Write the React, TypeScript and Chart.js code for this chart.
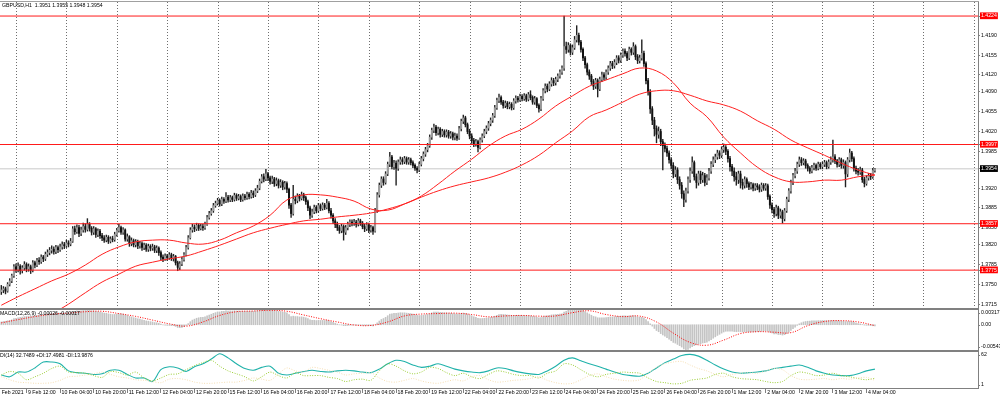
import React, { useEffect, useRef } from 'react';
import { Chart, registerables } from 'chart.js';

Chart.register(...registerables);

const FONT = '"Liberation Sans", Arial, sans-serif';
const W = 1000;
const AXIS_W = 22;
const BAR_PX = 2.1;
const X_MIN = -0.62;
const X_MAX = X_MIN + (W - AXIS_W) / BAR_PX;

const SYMBOL = 'GBPUSD,H1';
const PIP = 10000; // prices stored in 1/10000 units

// H1 bars, bar 0 = 9 Feb 2021 00:00 ... bar 416 = 4 Mar 2021 08:00
const opens = [13737,13740,13742,13738,13750,13756,13765,13781,13776,13782,13774,13779,13785,13777,13781,13775,13788,13784,13792,13790,13798,13795,13803,13806,
13810,13812,13808,13815,13811,13816,13820,13818,13823,13821,13826,13848,13843,13850,13840,13846,13852,13847,13856,13849,13842,13848,13838,13844,
13836,13832,13828,13833,13826,13830,13829,13838,13845,13850,13842,13846,13830,13834,13822,13827,13820,13825,13818,13822,13815,13819,13812,13817,
13814,13816,13810,13814,13806,13798,13795,13800,13797,13802,13796,13799,13788,13780,13786,13794,13802,13815,13832,13846,13851,13848,13854,13849,
13852,13850,13856,13868,13875,13880,13889,13893,13898,13892,13900,13897,13904,13899,13903,13900,13907,13902,13905,13900,13906,13903,13909,13905,
13911,13908,13915,13920,13932,13940,13936,13945,13938,13932,13936,13928,13933,13925,13930,13922,13928,13918,13890,13875,13900,13898,13906,13902,
13908,13903,13896,13885,13872,13878,13886,13880,13889,13884,13890,13886,13893,13880,13872,13862,13856,13850,13845,13852,13842,13850,13856,13860,
13858,13860,13856,13862,13858,13852,13848,13855,13846,13850,13844,13880,13908,13925,13936,13930,13945,13962,13975,13958,13964,13955,13966,13970,
13967,13972,13966,13970,13965,13960,13955,13952,13962,13972,13980,13988,13995,14010,14022,14028,14018,14024,14015,14020,14014,14019,14012,14016,
14010,14012,14008,14025,14038,14044,14032,14020,14012,14004,13998,14002,13992,14005,14012,14020,14026,14034,14040,14048,14062,14075,14080,14072,
14066,14070,14064,14068,14062,14074,14079,14076,14082,14078,14083,14077,14085,14080,14072,14078,14066,14060,14078,14092,14100,14095,14104,14110,
14106,14112,14118,14125,14132,14170,14165,14172,14160,14168,14182,14190,14178,14165,14150,14138,14125,14118,14108,14100,14110,14095,14112,14120,
14116,14125,14132,14140,14136,14142,14150,14146,14155,14162,14158,14150,14165,14160,14170,14152,14145,14150,14158,14140,14110,14090,14060,14040,
14025,14015,14020,14002,13995,13990,13982,13970,13960,13945,13952,13935,13925,13910,13900,13915,13935,13950,13965,13940,13930,13945,13935,13942,
13930,13938,13950,13962,13970,13975,13982,13978,13988,13992,13985,13972,13958,13950,13940,13935,13945,13930,13925,13935,13928,13922,13926,13920,
13924,13922,13918,13925,13920,13924,13905,13890,13882,13875,13885,13872,13878,13866,13880,13900,13915,13930,13942,13950,13962,13970,13965,13968,
13960,13955,13950,13956,13960,13955,13962,13958,13962,13965,13958,13966,13970,13975,13968,13962,13970,13960,13965,13945,13970,13982,13972,13955,
13950,13948,13952,13935,13928,13938,13942,13940,13951];
const highs = [13748,13746,13745,13753,13760,13768,13785,13786,13788,13785,13783,13790,13788,13786,13784,13792,13791,13796,13797,13802,13801,13807,13811,13815,
13818,13816,13819,13818,13821,13825,13824,13828,13827,13831,13852,13853,13855,13854,13851,13858,13857,13866,13859,13852,13852,13850,13848,13847,
13840,13836,13837,13836,13834,13835,13842,13849,13856,13853,13850,13848,13839,13836,13832,13830,13829,13828,13826,13825,13823,13822,13821,13820,
13821,13819,13818,13816,13809,13802,13804,13803,13806,13805,13803,13801,13791,13790,13798,13806,13819,13836,13850,13856,13855,13858,13857,13856,
13856,13860,13872,13879,13884,13893,13897,13902,13901,13904,13903,13912,13907,13907,13906,13911,13910,13909,13908,13910,13909,13913,13912,13916,
13915,13919,13925,13936,13944,13945,13953,13948,13941,13941,13939,13938,13936,13935,13933,13932,13931,13920,13893,13925,13906,13910,13909,13913,
13911,13906,13899,13888,13883,13890,13889,13893,13892,13894,13893,13900,13896,13884,13875,13866,13860,13854,13856,13855,13854,13860,13864,13864,
13865,13863,13866,13865,13861,13856,13859,13858,13854,13853,13884,13912,13929,13940,13940,13949,13966,13983,13978,13969,13968,13970,13975,13974,
13976,13975,13974,13973,13968,13963,13958,13966,13976,13984,13992,13999,14014,14026,14033,14031,14028,14027,14024,14023,14023,14022,14020,14019,
14017,14016,14029,14042,14049,14047,14035,14024,14016,14008,14006,14005,14009,14016,14024,14030,14038,14044,14052,14066,14079,14086,14083,14075,
14074,14073,14072,14071,14078,14083,14082,14086,14085,14087,14086,14089,14092,14083,14082,14080,14069,14082,14096,14104,14104,14108,14115,14114,
14116,14122,14129,14136,14224,14178,14177,14175,14173,14188,14207,14194,14181,14168,14153,14141,14129,14121,14112,14114,14113,14116,14125,14124,
14129,14136,14144,14144,14147,14154,14154,14159,14166,14166,14161,14169,14168,14177,14173,14156,14155,14182,14162,14143,14114,14094,14064,14045,
14030,14028,14024,14006,14000,13994,13986,13974,13965,13958,13956,13940,13930,13915,13920,13940,13956,13975,13968,13945,13950,13950,13948,13946,
13944,13955,13967,13975,13980,13987,13986,13993,13998,13995,13988,13976,13962,13956,13948,13950,13950,13936,13940,13938,13931,13930,13929,13928,
13928,13926,13929,13928,13928,13927,13908,13894,13886,13890,13888,13883,13881,13884,13904,13919,13934,13946,13955,13966,13975,13974,13972,13971,
13963,13958,13960,13964,13963,13966,13965,13966,13969,13968,13970,13975,14005,13979,13971,13974,13973,13970,13968,13974,13989,13985,13975,13959,
13955,13957,13955,13939,13942,13946,13946,13955,13955];
const lows = [13732,13735,13733,13736,13747,13753,13762,13771,13772,13768,13770,13775,13772,13773,13769,13772,13779,13781,13785,13787,13790,13792,13799,13802,
13805,13803,13804,13806,13808,13812,13813,13815,13816,13818,13824,13838,13840,13834,13836,13842,13842,13844,13844,13837,13838,13833,13834,13831,
13827,13824,13825,13822,13823,13825,13826,13835,13842,13838,13838,13826,13826,13817,13818,13816,13816,13813,13814,13810,13811,13808,13808,13809,
13810,13806,13806,13801,13793,13790,13792,13792,13794,13792,13791,13784,13774,13776,13783,13791,13800,13812,13830,13842,13843,13845,13845,13846,
13845,13847,13854,13865,13872,13877,13886,13890,13888,13889,13893,13894,13895,13896,13896,13897,13898,13899,13896,13897,13899,13900,13901,13902,
13903,13905,13912,13917,13929,13931,13933,13933,13927,13928,13923,13924,13920,13921,13917,13918,13912,13884,13868,13872,13892,13894,13897,13899,
13898,13891,13880,13866,13868,13875,13876,13877,13880,13881,13882,13883,13876,13867,13857,13850,13845,13840,13841,13828,13838,13846,13852,13853,
13854,13851,13853,13854,13848,13843,13845,13841,13842,13838,13842,13877,13904,13921,13925,13927,13942,13958,13954,13953,13925,13951,13962,13962,
13963,13962,13962,13961,13956,13951,13947,13949,13959,13968,13976,13984,13992,14006,14018,14013,14014,14010,14011,14010,14010,14008,14008,14005,
14005,14004,14006,14021,14034,14028,14016,14007,13999,13993,13994,13984,13989,14001,14009,14016,14022,14030,14036,14045,14059,14071,14068,14061,
14062,14060,14060,14058,14059,14070,14072,14073,14074,14075,14073,14074,14076,14068,14068,14062,14054,14057,14075,14088,14090,14092,14100,14101,
14102,14108,14114,14121,14128,14158,14160,14155,14156,14165,14178,14173,14160,14145,14132,14120,14112,14103,14094,14096,14081,14092,14108,14111,
14112,14121,14128,14131,14132,14138,14141,14142,14151,14153,14145,14147,14155,14156,14147,14140,14141,14146,14135,14104,14084,14052,14032,14012,
14000,14008,13995,13952,13984,13976,13964,13954,13938,13940,13928,13918,13902,13887,13895,13911,13930,13946,13934,13920,13925,13928,13930,13924,
13926,13934,13946,13958,13965,13971,13972,13974,13983,13979,13966,13950,13942,13932,13925,13928,13920,13918,13920,13921,13917,13918,13915,13916,
13917,13913,13914,13916,13916,13900,13884,13876,13868,13871,13866,13867,13858,13862,13877,13896,13911,13926,13938,13946,13958,13960,13961,13955,
13950,13946,13947,13952,13951,13952,13954,13954,13958,13954,13955,13962,13966,13963,13957,13958,13955,13955,13922,13940,13966,13967,13950,13945,
13943,13944,13930,13922,13925,13934,13935,13937,13948];
const closes = [13740,13742,13738,13750,13756,13765,13781,13776,13782,13774,13779,13785,13777,13781,13775,13788,13784,13792,13790,13798,13795,13803,13806,13810,
13812,13808,13815,13811,13816,13820,13818,13823,13821,13826,13848,13843,13850,13840,13846,13852,13847,13856,13849,13842,13848,13838,13844,13836,
13832,13828,13833,13826,13830,13829,13838,13845,13850,13842,13846,13830,13834,13822,13827,13820,13825,13818,13822,13815,13819,13812,13817,13814,
13816,13810,13814,13806,13798,13795,13800,13797,13802,13796,13799,13788,13780,13786,13794,13802,13815,13832,13846,13851,13848,13854,13849,13852,
13850,13856,13868,13875,13880,13889,13893,13898,13892,13900,13897,13904,13899,13903,13900,13907,13902,13905,13900,13906,13903,13909,13905,13911,
13908,13915,13920,13932,13940,13936,13945,13938,13932,13936,13928,13933,13925,13930,13922,13928,13918,13890,13875,13900,13898,13906,13902,13908,
13903,13896,13885,13872,13878,13886,13880,13889,13884,13890,13886,13893,13880,13872,13862,13856,13850,13845,13852,13842,13850,13856,13860,13858,
13860,13856,13862,13858,13852,13848,13855,13846,13850,13844,13880,13908,13925,13936,13930,13945,13962,13975,13958,13964,13955,13966,13970,13967,
13972,13966,13970,13965,13960,13955,13952,13962,13972,13980,13988,13995,14010,14022,14028,14018,14024,14015,14020,14014,14019,14012,14016,14010,
14012,14008,14025,14038,14044,14032,14020,14012,14004,13998,14002,13992,14005,14012,14020,14026,14034,14040,14048,14062,14075,14080,14072,14066,
14070,14064,14068,14062,14074,14079,14076,14082,14078,14083,14077,14085,14080,14072,14078,14066,14060,14078,14092,14100,14095,14104,14110,14106,
14112,14118,14125,14132,14170,14165,14172,14160,14168,14182,14190,14178,14165,14150,14138,14125,14118,14108,14100,14110,14095,14112,14120,14116,
14125,14132,14140,14136,14142,14150,14146,14155,14162,14158,14150,14165,14160,14170,14152,14145,14150,14158,14140,14110,14090,14060,14040,14025,
14015,14020,14002,13995,13990,13982,13970,13960,13945,13952,13935,13925,13910,13900,13915,13935,13950,13965,13940,13930,13945,13935,13942,13930,
13938,13950,13962,13970,13975,13982,13978,13988,13992,13985,13972,13958,13950,13940,13935,13945,13930,13925,13935,13928,13922,13926,13920,13924,
13922,13918,13925,13920,13924,13905,13890,13882,13875,13885,13872,13878,13866,13880,13900,13915,13930,13942,13950,13962,13970,13965,13968,13960,
13955,13950,13956,13960,13955,13962,13958,13962,13965,13958,13966,13970,13975,13968,13962,13970,13960,13965,13945,13970,13982,13972,13955,13950,
13948,13952,13935,13928,13938,13942,13940,13951,13954];

// moving averages, one value every 8 bars
const MA_STEP = 8;
const maFast = [13713,13728,13742,13756,13768,13784,13803,13816,13825,13828,13828,13823,13821,13828,13841,13853,13872,13899,13908,13908,13904,13897,13883,13881,13892,13906,13927,13950,13971,13994,14012,14024,14042,14065,14083,14100,14111,14122,14132,14127,14106,14070,14046,14010,13982,13957,13940,13931,13931,13934,13934,13940,13943];
const maSlow = [13643,13660,13678,13697,13715,13735,13754,13768,13782,13789,13795,13800,13809,13819,13830,13841,13849,13856,13862,13865,13869,13872,13876,13883,13892,13904,13915,13924,13931,13938,13948,13961,13978,14000,14021,14046,14058,14072,14086,14092,14092,14084,14074,14067,14056,14039,14024,14005,13991,13978,13964,13952,13943];

const levels = [14224, 13997, 13857, 13775];
const priceTicks = [14190, 14155, 14120, 14090, 14055, 14020, 13985, 13920, 13885, 13850, 13820, 13785, 13750, 13715];
const Y_MIN = 13708.1;
const Y_MAX = 14248.8;

// MACD(12,26,9) main per bar, in 1e-5 units
const MACD_UNIT = 100000;
const macdMain = [60,70,75,85,95,105,130,140,150,158,165,175,
178,185,185,195,198,205,208,215,218,226,232,240,
245,246,250,250,252,255,254,256,255,258,280,288,
298,295,300,306,305,312,308,300,298,288,284,272,
262,250,245,234,228,220,222,228,236,232,230,210,
200,180,170,152,145,128,120,104,96,82,76,66,
60,48,44,30,12,-2,-8,-14,-14,-20,-20,-36,
-58,-62,-56,-40,-14,24,66,100,120,140,150,158,
160,170,190,208,226,246,260,276,276,288,290,298,
296,298,296,300,296,296,290,290,286,288,286,290,
290,295,300,312,326,330,338,334,326,320,310,304,
292,286,274,268,254,216,176,184,176,176,168,170,
162,150,130,106,96,96,90,94,92,94,92,96,
84,68,50,32,14,-2,-6,-20,-20,-16,-10,-8,
-6,-8,-6,-8,-12,-16,-14,-20,-20,-24,0,40,
80,114,134,160,194,228,236,246,244,252,258,256,
256,250,246,238,228,216,202,198,200,206,214,222,
238,256,270,270,272,266,264,258,256,250,248,240,
236,230,234,244,252,246,232,214,194,172,158,138,
134,134,138,142,148,156,166,184,204,220,222,220,
218,210,206,198,200,202,200,202,198,198,192,194,
190,180,176,162,146,154,170,186,192,202,212,216,
220,224,230,236,270,290,310,316,320,330,342,336,
324,304,282,256,230,204,178,170,150,148,148,150,
154,160,168,168,172,180,180,186,192,192,186,192,
190,196,184,168,160,158,142,110,70,20,-30,-80,
-124,-150,-190,-220,-248,-278,-310,-344,-380,-396,-424,-450,
-480,-520,-543,-530,-500,-470,-450,-432,-418,-408,-392,-386,
-372,-350,-320,-290,-260,-230,-206,-180,-156,-140,-136,-136,
-140,-146,-150,-146,-152,-156,-152,-152,-154,-152,-154,-150,
-148,-146,-140,-136,-130,-140,-160,-178,-196,-196,-210,-212,
-222,-214,-190,-160,-124,-86,-50,-14,20,42,60,70,
76,78,82,86,86,88,88,90,90,88,90,90,
92,90,86,86,80,78,66,68,72,66,52,38,
26,18,4,-8,-12,-14,-18,-22,-26];
// signal, one value every 8 bars
const SIG_STEP = 8;
const macdSignal = [40,110,175,225,250,280,290,240,180,100,20,-30,60,200,280,295,310,290,210,130,60,-5,-15,60,190,230,240,250,220,170,190,200,185,190,260,300,220,175,185,60,-180,-380,-440,-330,-190,-150,-160,-170,-20,70,88,60,-17];
const MACD_MIN = -0.00543;
const MACD_MAX = 0.00317;

// ADX(14), one value every 4 bars
const ADX_STEP = 4;
const adxMain = [23,20,28,28,35,45,45,42,30,27,26,24,25,31,31,24,18,18,12,32,37,35,29,37,42,50,59,52,42,34,31,36,38,26,23,26,29,31,29,28,30,31,30,28,27,33,42,48,46,40,36,38,42,38,33,30,28,27,30,35,34,30,27,25,24,30,38,48,52,47,42,38,33,28,24,22,21,26,35,44,50,56,58,55,48,40,33,28,26,27,28,30,34,36,38,40,36,30,26,23,22,22,25,30,33];
const plusDI = [23,29,26,15,20,26,34,38,28,27,26,22,19,29,27,23,28,18,13,18,24,25,32,39,44,48,38,30,25,20,13,20,28,22,18,27,22,22,22,19,17,12,15,16,14,30,42,38,30,25,28,36,34,27,22,26,20,17,24,30,28,24,22,22,18,26,30,42,40,32,24,20,24,26,28,27,26,18,12,10,8,9,14,16,18,24,26,20,17,16,15,12,10,12,22,28,26,22,23,26,22,20,17,15,17.5];
const minusDI = [20,15,11,10,9,9,10,14,20,21,23,25,28,24,20,18,15,14,12,10,16,17,15,11,9,9,10,11,11,14,18,16,14,25,35,30,28,36,34,31,28,23,25,26,27,18,12,11,14,17,13,10,9,12,15,13,20,22,15,11,12,14,15,17,20,14,10,8,9,15,22,25,20,16,14,13,15,26,36,42,45,46,40,34,30,24,20,24,26,27,26,30,34,32,22,16,15,16,17,15,17,16,18,19,14];
const ADX_MIN = 1;
const ADX_MAX = 62;
const adxHeader = 'DI(14) 32.7489 +DI:17.4981 -DI:13.9876';

const timeLabelBars = [-2.6, 12, 28, 44, 60, 76, 92, 108, 124, 140, 156, 172, 188, 204, 220, 236, 252, 268, 284, 300, 316, 332, 348, 364, 380, 396, 412];
const timeLabels = ['8 Feb 2021', '9 Feb 12:00', '10 Feb 04:00', '10 Feb 20:00', '11 Feb 12:00', '12 Feb 04:00', '12 Feb 20:00', '15 Feb 12:00', '16 Feb 04:00', '16 Feb 20:00', '17 Feb 12:00', '18 Feb 04:00', '18 Feb 20:00', '19 Feb 12:00', '22 Feb 04:00', '22 Feb 20:00', '23 Feb 12:00', '24 Feb 04:00', '24 Feb 20:00', '25 Feb 12:00', '26 Feb 04:00', '26 Feb 20:00', '1 Mar 12:00', '2 Mar 04:00', '2 Mar 20:00', '3 Mar 12:00', '4 Mar 04:00'];

const FS = 5.2;
const GRID_COLOR = '#808080';

const baseOptions: any = {
  responsive: false,
  maintainAspectRatio: false,
  devicePixelRatio: 1,
  animation: false,
  events: [],
  layout: { padding: 0 },
  plugins: { legend: { display: false }, tooltip: { enabled: false }, title: { display: false } },
};

function xHidden(extra: any = {}) {
  return {
    type: 'linear', min: X_MIN, max: X_MAX, offset: false,
    display: false,
    grid: { offset: false },
    ...extra,
  };
}

function rightAxis(min: number, max: number, extra: any = {}) {
  return {
    type: 'linear', position: 'right', min, max, beginAtZero: false,
    grid: { display: false },
    border: { display: true, color: GRID_COLOR, width: 1 },
    ticks: { display: false },
    afterFit: (s: any) => { s.width = AXIS_W; s.paddingTop = 0; s.paddingBottom = 0; },
    ...extra,
  };
}

function drawText(ctx: CanvasRenderingContext2D, text: string, x: number, y: number, color = '#000') {
  ctx.save();
  ctx.font = `${FS}px ${FONT}`;
  ctx.fillStyle = color;
  ctx.textBaseline = 'middle';
  ctx.textAlign = 'left';
  ctx.fillText(text, x, y);
  ctx.restore();
}

function drawRightLabels(chart: any, entries: { value: number; text: string }[]) {
  const { ctx, chartArea } = chart;
  const ys = chart.scales.y;
  entries.forEach((e) => {
    let py = ys.getPixelForValue(e.value);
    py = Math.min(Math.max(py, chartArea.top + 2.5), chartArea.bottom - 3);
    ctx.save();
    ctx.strokeStyle = GRID_COLOR;
    ctx.lineWidth = 1;
    ctx.beginPath();
    ctx.moveTo(chartArea.right, Math.round(py) + 0.5);
    ctx.lineTo(chartArea.right + 2, Math.round(py) + 0.5);
    ctx.stroke();
    ctx.restore();
    drawText(ctx, e.text, chartArea.right + 3, py);
  });
}

const fmtPrice = (v: number) => (v / PIP).toFixed(4);

export default function App() {
  const mainRef = useRef<HTMLCanvasElement>(null);
  const macdRef = useRef<HTMLCanvasElement>(null);
  const adxRef = useRef<HTMLCanvasElement>(null);

  useEffect(() => {
    const n = closes.length;
    const last = n - 1;
    const idx = closes.map((_, i) => i);
    const isBull = (i: number) => closes[i] >= opens[i];

    // ---------- main price panel ----------
    const levelSets = levels.map((v) => ({
      type: 'line',
      data: [{ x: X_MIN, y: v / PIP }, { x: X_MAX, y: v / PIP }],
      borderColor: '#ff1a1a', borderWidth: 1, pointRadius: 0, order: 2,
    }));
    const header = `${SYMBOL}  ${fmtPrice(opens[last])} ${fmtPrice(highs[last])} ${fmtPrice(lows[last])} ${fmtPrice(closes[last])}`;
    const allYTicks = [...priceTicks, ...levels, closes[last]];
    const nPlain = priceTicks.length;
    const nLevel = levels.length;

    const main = new Chart(mainRef.current as HTMLCanvasElement, {
      type: 'bar',
      data: {
        datasets: [
          {
            type: 'line',
            data: [{ x: X_MIN, y: closes[last] / PIP }, { x: X_MAX, y: closes[last] / PIP }],
            borderColor: '#c8c8c8', borderWidth: 1, pointRadius: 0, order: 5,
          },
          {
            type: 'bar',
            data: idx.map((i) => ({ x: i, y: [lows[i] / PIP, highs[i] / PIP] })),
            backgroundColor: '#222222', barThickness: 0.75, grouped: false, order: 4,
          },
          {
            type: 'bar',
            data: idx.map((i) => ({ x: i, y: [opens[i] / PIP, closes[i] / PIP] })),
            backgroundColor: (c: any) => (isBull(c.dataIndex) ? '#9c9c9c' : '#111111'),
            barThickness: 1.3, minBarLength: 0.8, grouped: false, order: 3,
          },
          {
            type: 'line',
            data: maFast.map((v, k) => ({ x: k * MA_STEP, y: v / PIP })),
            borderColor: '#ff2020', borderWidth: 1, pointRadius: 0, tension: 0.4, order: 1,
          },
          {
            type: 'line',
            data: maSlow.map((v, k) => ({ x: k * MA_STEP, y: v / PIP })),
            borderColor: '#ff2020', borderWidth: 1, pointRadius: 0, tension: 0.4, order: 1,
          },
          ...levelSets,
        ] as any,
      },
      options: {
        ...baseOptions,
        scales: {
          x: {
            type: 'linear', min: X_MIN, max: X_MAX, offset: false, position: 'bottom',
            grid: { display: true, drawOnChartArea: true, drawTicks: false, color: '#6e6e6e', lineWidth: 1, offset: false },
            border: { display: false, dash: [1, 2] },
            ticks: { display: false },
            afterBuildTicks: (s: any) => {
              s.ticks = Array.from({ length: 20 }, (_, k) => ({ value: 7.25 + 24 * k }));
            },
            afterFit: (s: any) => { s.height = 0; s.paddingLeft = 0; s.paddingRight = 0; },
          },
          y: {
            type: 'linear', position: 'right', min: Y_MIN / PIP, max: Y_MAX / PIP, beginAtZero: false,
            grid: { display: true, drawOnChartArea: false, drawTicks: true, tickLength: 2, color: GRID_COLOR },
            border: { display: true, color: GRID_COLOR, width: 1 },
            afterBuildTicks: (s: any) => { s.ticks = allYTicks.map((v) => ({ value: v / PIP })); },
            afterFit: (s: any) => { s.width = AXIS_W; s.paddingTop = 0; s.paddingBottom = 0; },
            ticks: {
              autoSkip: false,
              padding: 1,
              font: { family: FONT, size: FS },
              callback: (v: any) => Number(v).toFixed(4),
              color: (c: any) => (c.index >= nPlain ? '#ffffff' : '#000000'),
              showLabelBackdrop: (c: any) => c.index >= nPlain,
              backdropColor: (c: any) => (c.index >= nPlain + nLevel ? '#000000' : '#ff0000'),
              backdropPadding: { left: 1, right: 1, top: 0.5, bottom: 0 },
            },
          },
        },
      },
      plugins: [
        { id: 'mainHeader', afterDraw: (ch: any) => drawText(ch.ctx, header, 2, 3.8) },
      ],
    } as any);

    // ---------- MACD panel ----------
    const macdHeader = `MACD(12,26,9) ${(macdMain[last] / MACD_UNIT).toFixed(5)} ${(macdSignal[macdSignal.length - 1] / MACD_UNIT).toFixed(5)}`;
    const macd = new Chart(macdRef.current as HTMLCanvasElement, {
      type: 'bar',
      data: {
        datasets: [
          {
            type: 'bar',
            data: idx.map((i) => ({ x: i, y: macdMain[i] / MACD_UNIT })),
            backgroundColor: '#c4c4c4', barThickness: 1, grouped: false, order: 2,
          },
          {
            type: 'line',
            data: macdSignal.map((v, k) => ({ x: k * SIG_STEP, y: v / MACD_UNIT })),
            borderColor: '#ff0000', borderWidth: 1, borderDash: [1, 1.5], pointRadius: 0, tension: 0.4, order: 1,
          },
        ] as any,
      },
      options: {
        ...baseOptions,
        scales: {
          x: xHidden(),
          y: rightAxis(MACD_MIN, MACD_MAX),
        },
      },
      plugins: [
        {
          id: 'macdText',
          afterDraw: (ch: any) => {
            drawText(ch.ctx, macdHeader, 0, 3.5);
            drawRightLabels(ch, [
              { value: MACD_MAX, text: MACD_MAX.toFixed(5) },
              { value: 0, text: '0.00' },
              { value: MACD_MIN, text: MACD_MIN.toFixed(5) },
            ]);
          },
        },
      ],
    } as any);

    // ---------- ADX panel ----------
    const adxLine = (arr: number[]) => arr.map((v, k) => ({ x: k * ADX_STEP, y: v }));
    const adx = new Chart(adxRef.current as HTMLCanvasElement, {
      type: 'line',
      data: {
        datasets: [
          { data: adxLine(minusDI), borderColor: '#f5deb3', borderWidth: 1, borderDash: [1, 1.5], pointRadius: 0, tension: 0.3 },
          { data: adxLine(plusDI), borderColor: '#9acd32', borderWidth: 1, borderDash: [1, 1.5], pointRadius: 0, tension: 0.3 },
          { data: adxLine(adxMain), borderColor: '#20b2aa', borderWidth: 1.1, pointRadius: 0, tension: 0.3 },
        ] as any,
      },
      options: {
        ...baseOptions,
        scales: {
          x: {
            type: 'linear', min: X_MIN, max: X_MAX, offset: false, position: 'bottom',
            grid: { display: true, drawOnChartArea: false, drawTicks: true, tickLength: 5, color: GRID_COLOR, offset: false },
            border: { display: true, color: GRID_COLOR, width: 1 },
            afterBuildTicks: (s: any) => { s.ticks = timeLabelBars.map((v) => ({ value: v })); },
            afterFit: (s: any) => { s.height = 11; s.paddingLeft = 0; s.paddingRight = 0; },
            ticks: {
              autoSkip: false, maxRotation: 0, minRotation: 0, align: 'start',
              padding: -3.5, labelOffset: 1.5,
              color: '#000', font: { family: FONT, size: FS },
              callback: (_v: any, i: number) => timeLabels[i],
            },
          },
          y: rightAxis(ADX_MIN, ADX_MAX),
        },
      },
      plugins: [
        {
          id: 'adxText',
          afterDraw: (ch: any) => {
            drawText(ch.ctx, adxHeader, 0, 3.5);
            drawRightLabels(ch, [
              { value: ADX_MAX, text: String(ADX_MAX) },
              { value: ADX_MIN, text: String(ADX_MIN) },
            ]);
          },
        },
      ],
    } as any);

    return () => { main.destroy(); macd.destroy(); adx.destroy(); };
  }, []);

  const abs = (top: number, height: number): React.CSSProperties => ({ position: 'absolute', left: 0, top, width: W, height });
  const line = (top: number, h: number, color: string): React.CSSProperties => ({ position: 'absolute', left: 0, top, width: W - AXIS_W + 1, height: h, background: color });

  return (
    <div style={{ position: 'absolute', left: 0, top: 0, width: W, height: 399, background: '#fff', overflow: 'hidden' }}>
      <div style={line(1, 1, '#a0a0a0')} />
      <canvas ref={mainRef} width={W} height={306} style={abs(2, 306)} />
      <div style={line(308, 2, '#808080')} />
      <canvas ref={macdRef} width={W} height={40} style={abs(310, 40)} />
      <div style={line(350, 2, '#808080')} />
      <canvas ref={adxRef} width={W} height={47} style={abs(352, 47)} />
    </div>
  );
}
